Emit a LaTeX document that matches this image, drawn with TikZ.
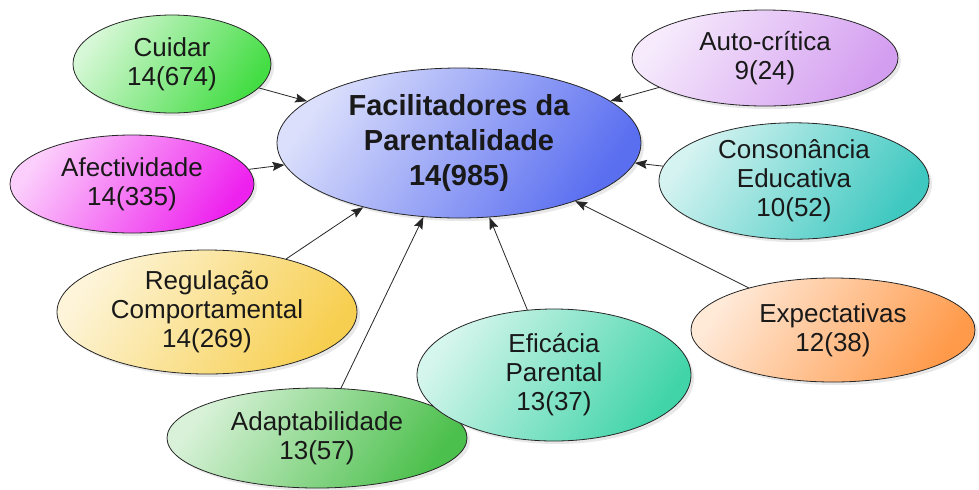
\documentclass[tikz,border=0pt]{standalone}
\usepackage{fontspec}
\setmainfont{Liberation Sans}
\usetikzlibrary{shapes.geometric,shadows,arrows.meta}

\definecolor{cuidarc}{HTML}{44DD44}
\definecolor{afectc}{HTML}{EE22EE}
\definecolor{centralc}{HTML}{5A6EF0}
\definecolor{autoc}{HTML}{D49EF0}
\definecolor{consonc}{HTML}{3EC8C0}
\definecolor{regulc}{HTML}{F7CF50}
\definecolor{adaptc}{HTML}{4CC04C}
\definecolor{eficc}{HTML}{40D4A8}
\definecolor{expectc}{HTML}{FF9A4A}

\begin{document}
\begin{tikzpicture}[x=0.5pt,y=-0.5pt,
  bubble/.style={ellipse,draw=black!85,thin,inner sep=0pt,align=center,
    top color=#1!22,middle color=#1!50,bottom color=#1,shading angle=55,
    drop shadow={shadow xshift=1.5pt,shadow yshift=-1.5pt,opacity=0.18},
    text=black!90,font=\fontsize{13pt}{14.5pt}\selectfont},
  link/.style={-{Stealth[length=6pt,width=4.5pt,inset=1pt]},thin,black!85}]
\useasboundingbox (0,0) rectangle (979,489);

% centre
\node[bubble=centralc,minimum width=182pt,minimum height=75pt,
      font=\fontsize{14.5pt}{17.5pt}\selectfont\bfseries] (central) at (459,143)
      {Facilitadores da\\Parentalidade\\14(985)};

% left side
\node[bubble=cuidarc,minimum width=99pt,minimum height=49pt] (cuidar) at (172,64)
      {Cuidar\\14(674)};
\node[bubble=afectc,minimum width=122pt,minimum height=49pt] (afect) at (132,184)
      {Afectividade\\14(335)};
\node[bubble=regulc,minimum width=150pt,minimum height=62pt] (regul) at (207,312)
      {Regulação\\Comportamental\\14(269)};
\node[bubble=adaptc,minimum width=150pt,minimum height=50pt] (adapt) at (317,438)
      {Adaptabilidade\\13(57)};

% right side
\node[bubble=autoc,minimum width=133pt,minimum height=48pt] (auto) at (765,58)
      {Auto-crítica\\9(24)};
\node[bubble=consonc,minimum width=135pt,minimum height=56pt] (conson) at (794,181)
      {Consonância\\Educativa\\10(52)};
\node[bubble=expectc,minimum width=142pt,minimum height=52pt] (expect) at (833,330)
      {Expectativas\\12(38)};
\node[bubble=eficc,minimum width=137pt,minimum height=66pt] (efic) at (554,375)
      {Eficácia\\Parental\\13(37)};

\foreach \n in {cuidar,afect,regul,adapt,auto,conson,expect,efic}
  \draw[link] (\n) -- (central);
\end{tikzpicture}
\end{document}
